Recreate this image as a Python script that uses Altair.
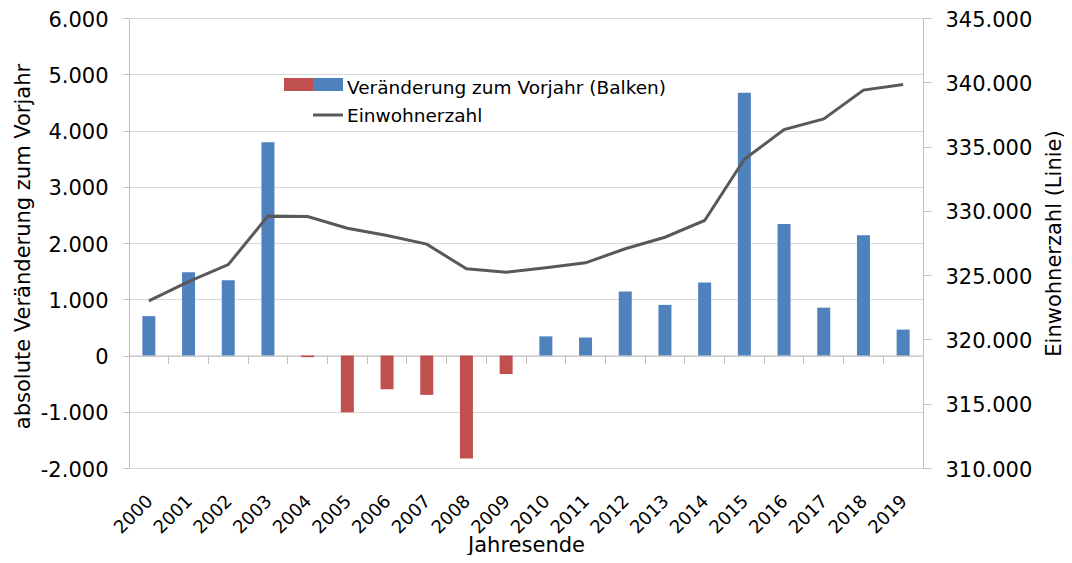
import altair as alt
import pandas as pd

# ---- data ----
jahre = ["2000", "2001", "2002", "2003", "2004", "2005", "2006", "2007", "2008", "2009",
         "2010", "2011", "2012", "2013", "2014", "2015", "2016", "2017", "2018", "2019"]
veraenderung = [700, 1480, 1340, 3790, -30, -1010, -600, -700, -1830, -330,
                340, 320, 1140, 900, 1300, 4670, 2340, 850, 2140, 460]
einwohner = [323000, 324500, 325820, 329590, 329560, 328650, 328080, 327410, 325490, 325220,
             325570, 325960, 327050, 327950, 329250, 334010, 336320, 337150, 339390, 339830]
ticks_links = [-2000, -1000, 0, 1000, 2000, 3000, 4000, 5000, 6000]
ticks_rechts = [310000, 315000, 320000, 325000, 330000, 335000, 340000, 345000]
legende_texte = ["Veränderung zum Vorjahr (Balken)", "Einwohnerzahl"]

df = pd.DataFrame({"Jahr": jahre, "Veraenderung": veraenderung, "Einwohner": einwohner})

BLAU = "#4F81BD"
ROT = "#C0504D"
LINIE = "#595959"
ACHSE = "#BFBFBF"
GITTER = "#D9D9D9"
FONT = "DejaVu Sans"

W, H = 794, 450
zero_offset = -(H * 2000 / 8000)  # distance from plot bottom to y=0 on left scale

fmt = "(datum.value < 0 ? '-' : '') + replace(format(abs(datum.value), ','), ',', '.')"

x_scale = alt.Scale(paddingInner=0, paddingOuter=0)

base = alt.Chart(df)

bars = base.mark_bar(size=13).encode(
    x=alt.X("Jahr:N", sort=None, scale=x_scale,
            axis=alt.Axis(orient="bottom", labelAngle=-45, domain=False, ticks=False, grid=False,
                          labelPadding=24, labelOffset=-5, labelFontSize=18, labelColor="black",
                          title="Jahresende", titleFontSize=21, titleFontWeight="normal",
                          titleColor="black", titleY=83, titleBaseline="alphabetic")),
    y=alt.Y("Veraenderung:Q",
            scale=alt.Scale(domain=[-2000, 6000], nice=False),
            axis=alt.Axis(values=ticks_links, labelExpr=fmt, grid=True, gridColor=GITTER,
                          domainColor=ACHSE, tickColor=ACHSE, tickSize=6, labelPadding=15,
                          labelOffset=2, labelFontSize=21, labelColor="black",
                          title="absolute Veränderung zum Vorjahr", titleFontSize=21,
                          titleFontWeight="normal", titleColor="black", titleAngle=270,
                          titleX=-100, titleY=228, titleBaseline="alphabetic")),
    color=alt.when(alt.datum.Veraenderung < 0).then(alt.value(ROT)).otherwise(alt.value(BLAU)),
)

line = base.mark_line(color=LINIE, strokeWidth=3).encode(
    x=alt.X("Jahr:N", sort=None, scale=x_scale,
            axis=alt.Axis(orient="bottom", offset=zero_offset, labels=False, title=None,
                          domain=True, domainColor=ACHSE, ticks=True, tickSize=8,
                          tickColor=ACHSE, bandPosition=0, grid=False)),
    y=alt.Y("Einwohner:Q",
            scale=alt.Scale(domain=[310000, 345000], nice=False, zero=False),
            axis=alt.Axis(orient="right", values=ticks_rechts, labelExpr=fmt, grid=False,
                          domainColor=ACHSE, tickColor=ACHSE, tickSize=8, labelPadding=14,
                          labelOffset=2, labelFontSize=21, labelColor="black",
                          title="Einwohnerzahl (Linie)", titleFontSize=21,
                          titleFontWeight="normal", titleColor="black", titleAngle=270,
                          titleX=137, titleBaseline="alphabetic")),
)

# ---- legend (decoration) ----
leg = alt.Chart(pd.DataFrame({"t": legende_texte[:1]}))
leg2 = alt.Chart(pd.DataFrame({"t": legende_texte[1:]}))
leg_rot = leg.mark_rect(color=ROT).encode(
    x=alt.value(155), x2=alt.value(184), y=alt.value(60), y2=alt.value(73))
leg_blau = leg.mark_rect(color=BLAU).encode(
    x=alt.value(184), x2=alt.value(214), y=alt.value(60), y2=alt.value(73))
leg_linie = leg2.mark_rule(color=LINIE, strokeWidth=3).encode(
    x=alt.value(184), x2=alt.value(214), y=alt.value(97))
leg_text1 = leg.mark_text(align="left", baseline="alphabetic", fontSize=18.5, font=FONT,
                          color="black").encode(x=alt.value(218), y=alt.value(76), text="t:N")
leg_text2 = leg2.mark_text(align="left", baseline="alphabetic", fontSize=18.5, font=FONT,
                           color="black").encode(x=alt.value(218), y=alt.value(104), text="t:N")

chart = alt.layer(
    bars, line, leg_rot, leg_blau, leg_linie, leg_text1, leg_text2
).resolve_scale(
    y="independent"
).resolve_axis(
    x="independent", y="independent"
).properties(
    width=W, height=H,
    autosize=alt.AutoSizeParams(type="none"),
    padding={"left": 121, "top": 10, "right": 141, "bottom": 87},
).configure(
    font=FONT,
).configure_view(
    stroke=None
)

chart.save("out.html", embed_options={"renderer": "svg", "actions": False})
